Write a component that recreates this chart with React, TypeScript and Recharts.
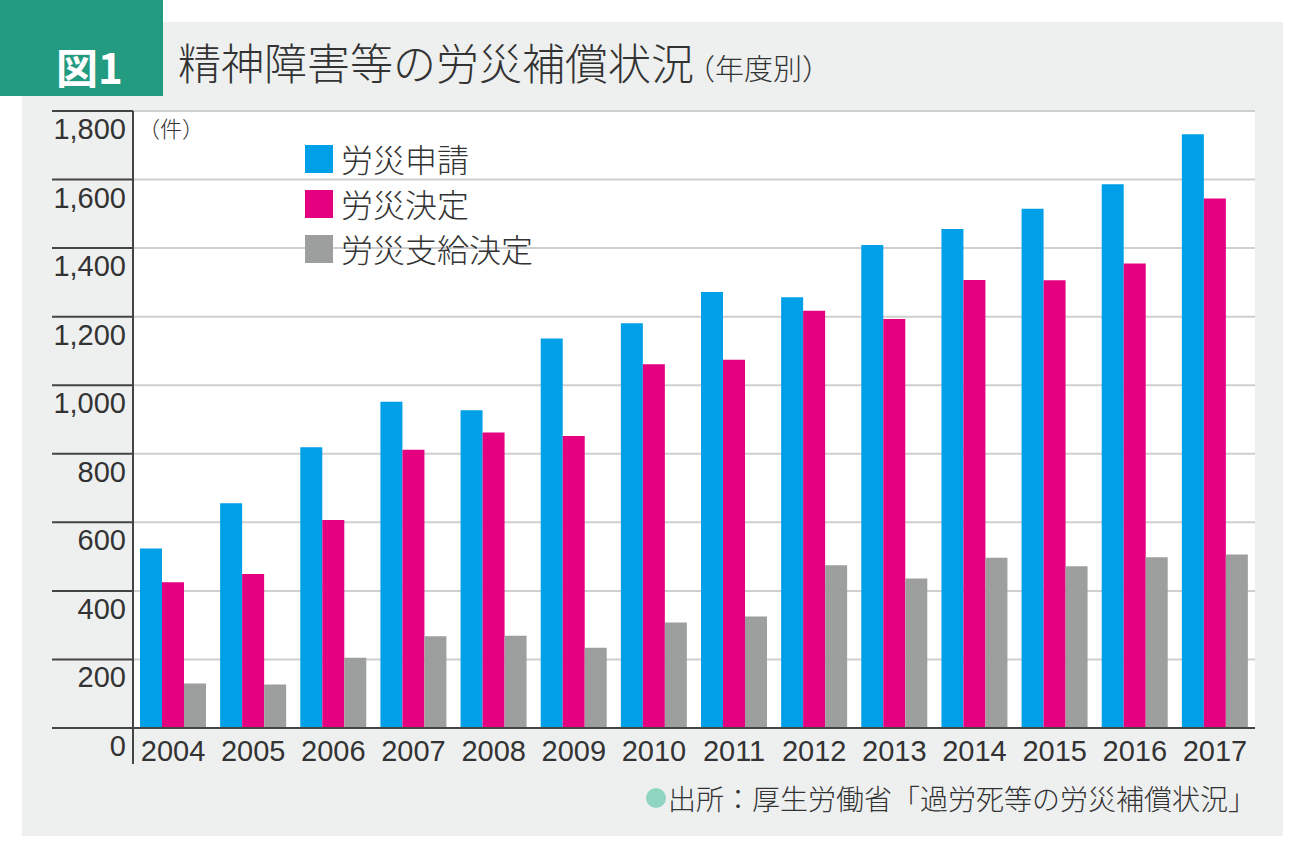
import React from 'react'
import { BarChart, Bar, XAxis, YAxis, CartesianGrid } from 'recharts'

const years = ['2004', '2005', '2006', '2007', '2008', '2009', '2010', '2011', '2012', '2013', '2014', '2015', '2016', '2017']
const claims = [524, 656, 819, 952, 927, 1136, 1181, 1272, 1257, 1409, 1456, 1515, 1586, 1732]
const decisions = [425, 449, 607, 812, 862, 852, 1061, 1074, 1217, 1193, 1307, 1306, 1355, 1545]
const approvals = [130, 127, 205, 268, 269, 234, 308, 325, 475, 436, 497, 472, 498, 506]
const yTicks = [0, 200, 400, 600, 800, 1000, 1200, 1400, 1600, 1800]

const series = [
  { key: 'claims', name: '労災申請', color: '#00a0e9' },
  { key: 'decisions', name: '労災決定', color: '#e4007f' },
  { key: 'approvals', name: '労災支給決定', color: '#9d9e9e' },
]

const data = years.map((year, i) => ({
  year,
  claims: claims[i],
  decisions: decisions[i],
  approvals: approvals[i],
}))

const NUM_FONT = '"Liberation Sans", Arial, sans-serif'
const JP_FONT = '"Noto Sans CJK JP", "Noto Sans", sans-serif'
const INK = '#333'

function YTick(props: any) {
  const { y, payload } = props
  return (
    <g>
      <line x1={52} x2={133} y1={y} y2={y} stroke="#444" strokeWidth={2} />
      {payload.value === 0 && <line x1={133} x2={133} y1={y} y2={y + 36} stroke="#444" strokeWidth={2} />}
      <text x={126} y={y + 28} textAnchor="end" fontSize={29} fontFamily={NUM_FONT} fill={INK}>
        {payload.value.toLocaleString('en-US')}
      </text>
    </g>
  )
}

function XTick(props: any) {
  const { x, payload } = props
  return (
    <text x={x} y={761} textAnchor="middle" fontSize={29} fontFamily={NUM_FONT} fill={INK}>
      {payload.value}
    </text>
  )
}

function LegendBox() {
  return (
    <div style={{ position: 'absolute', left: 305, top: 136, fontFamily: JP_FONT }}>
      {series.map((s) => (
        <div key={s.key} style={{ display: 'flex', alignItems: 'center', height: 45 }}>
          <div style={{ width: 28, height: 28, background: s.color, marginRight: 8 }} />
          <span style={{ fontSize: 32, fontWeight: 300, color: INK, lineHeight: '45px' }}>{s.name}</span>
        </div>
      ))}
    </div>
  )
}

export default function App() {
  return (
    <div style={{ position: 'absolute', left: 0, top: 0, width: 1300, height: 846, background: '#fff', overflow: 'hidden' }}>
      <div style={{ position: 'absolute', left: 22, top: 22, width: 1261, height: 814, background: '#eeefef' }} />
      <div
        style={{
          position: 'absolute', left: 0, top: 0, width: 163, height: 96, background: '#239b80',
          color: '#fff', fontFamily: JP_FONT, fontWeight: 700, fontSize: 42,
          display: 'flex', alignItems: 'center', justifyContent: 'center', paddingTop: 34, boxSizing: 'border-box', paddingLeft: 16,
        }}
      >
        図1
      </div>
      <div style={{ position: 'absolute', left: 178, top: 40, fontFamily: JP_FONT, fontWeight: 300, color: INK, whiteSpace: 'nowrap', lineHeight: 1 }}>
        <span style={{ fontSize: 43 }}>精神障害等の労災補償状況</span>
        <span style={{ fontSize: 29, marginLeft: -8 }}>（年度別）</span>
      </div>

      <BarChart
        width={1300}
        height={846}
        data={data}
        margin={{ top: 111, right: 45, bottom: 78, left: 52 }}
        barGap={0}
        barSize={22}
        style={{ position: 'absolute', left: 0, top: 0 }}
      >
        <CartesianGrid vertical={false} stroke="#cfcfcf" strokeWidth={2} fill="#fff" />
        <XAxis dataKey="year" tick={<XTick />} tickLine={false} axisLine={{ stroke: '#444', strokeWidth: 2 }} height={40} interval={0} />
        <YAxis
          domain={[0, 1800]}
          ticks={yTicks}
          width={81}
          tick={<YTick />}
          tickLine={false}
          axisLine={{ stroke: '#444', strokeWidth: 2 }}
          interval={0}
        />
        {series.map((s) => (
          <Bar key={s.key} dataKey={s.key} name={s.name} fill={s.color} isAnimationActive={false} />
        ))}
      </BarChart>

      {/* unit label sits over the plot background */}
      <div style={{ position: 'absolute', left: 138, top: 114, fontFamily: JP_FONT, fontSize: 22, fontWeight: 300, color: INK, lineHeight: 1.2 }}>（件）</div>
      <LegendBox />

      <div style={{ position: 'absolute', left: 646, top: 784, fontFamily: JP_FONT, fontSize: 28, fontWeight: 300, color: INK, display: 'flex', alignItems: 'center', whiteSpace: 'nowrap', lineHeight: 1 }}>
        <span style={{ display: 'inline-block', width: 20, height: 20, borderRadius: 10, background: '#8fd4c1', marginRight: 2 }} />
        出所：厚生労働省「過労死等の労災補償状況」
      </div>
    </div>
  )
}
